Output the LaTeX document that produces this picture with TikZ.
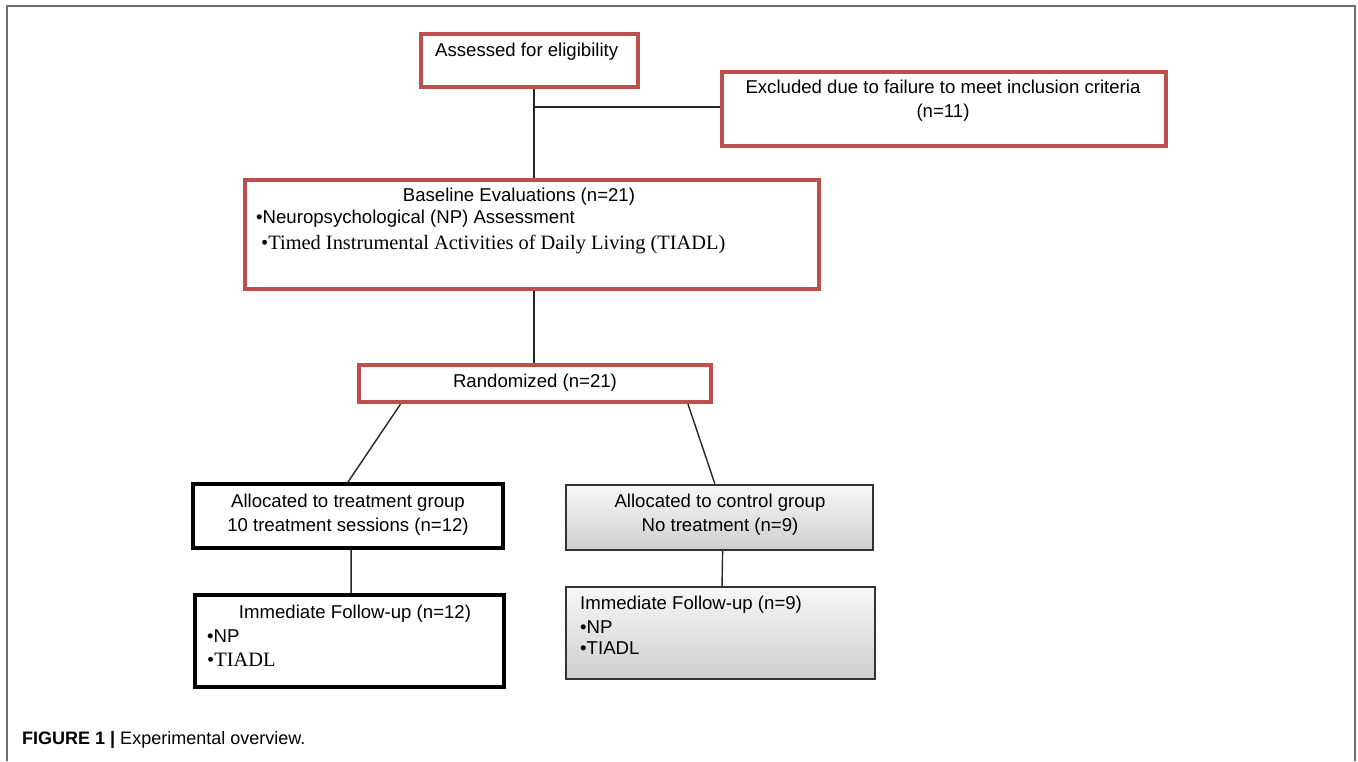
\documentclass[tikz,border=0pt]{standalone}
\usepackage{fontspec}
\setmainfont{Liberation Sans}
\newfontfamily\tms{Liberation Serif}
\usetikzlibrary{calc}
\definecolor{boxred}{RGB}{192,78,76}
\definecolor{framegray}{RGB}{110,110,110}
\tikzset{
  redbox/.style={draw=boxred, line width=3.8pt, fill=white, inner sep=0pt},
  blackbox/.style={draw=black, line width=4pt, fill=white, inner sep=0pt},
  graybox/.style={draw=black!80, line width=1.8pt, top color=gray!6, bottom color=gray!38, inner sep=0pt},
  conn/.style={draw=black!85, line width=1.4pt},
  txt/.style={font=\fontsize{18.6}{24}\selectfont, inner sep=0pt, align=center},
  tmstxt/.style={font=\tms\fontsize{20.4}{24}\selectfont, inner sep=0pt},
  captxt/.style={font=\fontsize{18}{21}\selectfont, inner sep=0pt, anchor=west},
}
\begin{document}
\begin{tikzpicture}[x=1pt,y=-1pt]
\useasboundingbox (0,0) rectangle (1358,761);
% outer frame
\draw[framegray, line width=1.6pt] (7,761) -- (7,6) -- (1355,6) -- (1355,761);

% boxes
\node[redbox, minimum width=217.5pt, minimum height=53.5pt] (elig) at (529.5,60.5) {};
\node[redbox, minimum width=444pt, minimum height=74pt] (excl) at (944,109) {};
\node[redbox, minimum width=574pt, minimum height=109.5pt] (base) at (532,234.5) {};
\node[redbox, minimum width=352pt, minimum height=37.5pt] (rand) at (535,383.5) {};
\node[blackbox, minimum width=310pt, minimum height=64pt] (treat) at (348,516) {};
\node[graybox, minimum width=307.5pt, minimum height=65.5pt] (ctrl) at (719.5,517.5) {};
\node[blackbox, minimum width=309pt, minimum height=92pt] (tfu) at (349.5,641) {};
\node[graybox, minimum width=309.5pt, minimum height=92.5pt] (cfu) at (720.5,633) {};

% texts
\node[txt, anchor=west] (teli) at (435,52) {Assessed for eligibility};
\node[txt] (texc) at (943,101) {Excluded due to failure to meet inclusion criteria\\(n=11)};
\node[txt] (tbase) at (519,197) {Baseline Evaluations (n=21)};
\node[txt, anchor=west] (tnp) at (256,219) {•Neuropsychological (NP) Assessment};
\node[tmstxt, anchor=west] (ttiadl) at (261,245) {•Timed Instrumental Activities of Daily Living (TIADL)};
\node[txt] (trand) at (535,383) {Randomized (n=21)};
\node[txt] (ttreat) at (348,515) {Allocated to treatment group\\10 treatment sessions (n=12)};
\node[txt] (tctrl) at (720,515) {Allocated to control group\\No treatment (n=9)};
\node[txt] (ttfu) at (355,614) {Immediate Follow-up (n=12)};
\node[txt, anchor=west] (ttnp) at (207,636) {•NP};
\node[tmstxt, anchor=west] (tttiadl) at (207,660) {•TIADL};
\node[txt, anchor=west] (tcfu) at (580,605) {Immediate Follow-up (n=9)};
\node[txt, anchor=west] (tcnp) at (580,627) {•NP};
\node[txt, anchor=west] (tctiadl) at (580,648) {•TIADL};

% connectors
\coordinate (j1) at (534,107);
\draw[conn] (elig.south -| j1) -- (base.north -| j1);
\draw[conn] (j1) -- (j1 -| excl.west);
\draw[conn] (base.south -| j1) -- (rand.north -| j1);
\draw[conn] ($(rand.south west)!0.122!(rand.south east)$) -- ($(treat.north west)!0.50!(treat.north east)$);
\draw[conn] ($(rand.south west)!0.93!(rand.south east)$) -- ($(ctrl.north west)!0.485!(ctrl.north east)$);
\draw[conn] ($(treat.south west)!0.51!(treat.south east)$) -- ($(tfu.north west)!0.505!(tfu.north east)$);
\draw[conn] ($(ctrl.south west)!0.51!(ctrl.south east)$) -- ($(cfu.north west)!0.505!(cfu.north east)$);

% caption
\node[captxt] (caption) at (22,740) {\textbf{FIGURE 1 |} Experimental overview.};
\end{tikzpicture}
\end{document}
